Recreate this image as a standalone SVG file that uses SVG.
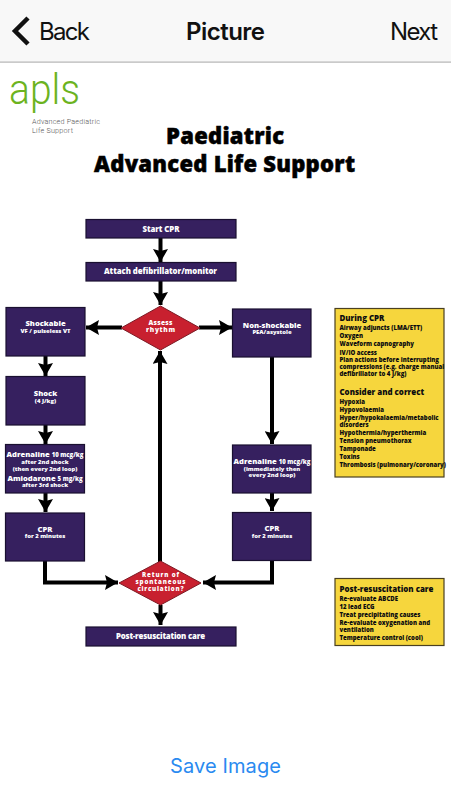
<svg xmlns="http://www.w3.org/2000/svg" width="451" height="800" viewBox="0 0 451 800">
<style>
text{font-family:"Open Sans","Noto Sans","Liberation Sans",sans-serif}
.ui{font-family:Inter,"Liberation Sans",sans-serif;font-size:24px;fill:#111}
.box{fill:#36205f;stroke:#1a1030;stroke-width:1.2}
.dia{fill:#c8202f;stroke:#7d1a24;stroke-width:1}
.note{fill:#f6d63d;stroke:#4a4020;stroke-width:1.2}
.w{fill:#fff;font-weight:800;text-anchor:middle}
.h{font-size:7.600px}.s{font-size:5.900px}.d{font-size:7.800px}.e{font-size:6.600px}
.y{fill:#0c0c10;font-weight:800;font-size:6px}
.yh{fill:#0c0c10;font-weight:800;font-size:7.900px}
.c{fill:none;stroke:#000;stroke-width:4;marker-end:url(#a)}
</style>
<defs><marker id="a" markerUnits="userSpaceOnUse" markerWidth="14" markerHeight="15" refX="13" refY="7.5" orient="auto"><path d="M0 0L13 7.5L0 15L2 7.5Z" fill="#000"/></marker></defs>
<rect width="451" height="800" fill="#fff"/>
<g id="header">
<rect width="451" height="61.500" fill="#f8f8f8"/>
<rect y="61.500" width="451" height="1.200" fill="#b4b4b4"/>
<polyline points="28,18 15,31 28,44" fill="none" stroke="#111" stroke-width="4.500"/>
<text class="ui" x="39" y="40" textLength="51">Back</text>
<text class="ui" x="186" y="40" textLength="79" style="font-weight:600">Picture</text>
<text class="ui" x="390" y="40" textLength="48">Next</text>
</g>
<g id="logo">
<text x="9" y="104" font-size="43" textLength="71" lengthAdjust="spacingAndGlyphs" style="font-family:Roboto,sans-serif;font-weight:300;fill:#6cb31f">apls</text>
<text x="32" y="123.500" font-size="7.200" textLength="68" style="font-family:Roboto,sans-serif;font-weight:300;fill:#555">Advanced Paediatric</text>
<text x="32" y="133" font-size="7.200" textLength="41" style="font-family:Roboto,sans-serif;font-weight:300;fill:#555">Life Support</text>
</g>
<g id="title" text-anchor="middle" font-weight="800" font-size="22" fill="#000" stroke="#000" stroke-width=".5">
<text x="225" y="144" textLength="118">Paediatric</text>
<text x="224.500" y="172" textLength="261">Advanced Life Support</text>
</g>
<g id="connectors">
<path class="c" d="M160.500 238V262"/>
<path class="c" d="M160.500 281V305"/>
<path class="c" d="M122 327.500H86"/>
<path class="c" d="M199 327.500H232"/>
<path class="c" d="M45.500 356V376"/>
<path class="c" d="M45.500 425V444"/>
<path class="c" d="M45.500 493V512"/>
<path class="c" d="M45 561V582.500H118"/>
<path class="c" d="M272 561V582.500H203"/>
<path class="c" d="M272 357V444"/>
<path class="c" d="M272 493V511"/>
<path class="c" d="M160 562V351"/>
<path class="c" d="M160.500 605V625"/>
</g>
<g id="start"><rect class="box" x="86" y="219.500" width="150" height="18.500"/><text class="w d" x="161" y="231.500" textLength="37">Start CPR</text></g>
<g id="attach"><rect class="box" x="86" y="262.500" width="150" height="18.500"/><text class="w d" x="160.500" y="274" textLength="113">Attach defibrillator/monitor</text></g>
<g id="assess"><polygon class="dia" points="160.500,306 200,328 160.500,350 121,328"/><text class="w e" x="160.500" y="324.500" textLength="24">Assess</text><text class="w e" x="160.500" y="332" textLength="29">rhythm</text></g>
<g id="shockable"><rect class="box" x="6" y="307.500" width="79" height="48.500"/><text class="w h" x="45.500" y="326">Shockable</text><text class="w s" x="45.500" y="333">VF / pulseless VT</text></g>
<g id="nonshockable"><rect class="box" x="232.500" y="309" width="78.500" height="48"/><text class="w h" x="272" y="327.500">Non-shockable</text><text class="w s" x="272" y="334">PEA/asystole</text></g>
<g id="shock"><rect class="box" x="6" y="376.500" width="79" height="48.500"/><text class="w h" x="45.500" y="396">Shock</text><text class="w s" x="45.500" y="402.500">(4 J/kg)</text></g>
<g id="adr-left"><rect class="box" x="5.500" y="444.500" width="79" height="48.500"/>
<text class="w h" x="45" y="457">Adrenaline <tspan font-size="6">10 mcg/kg</tspan></text>
<text class="w s" x="45" y="463.500">after 2nd shock</text><text class="w s" x="45" y="470.500">(then every 2nd loop)</text>
<text class="w h" x="45" y="480.500">Amiodarone <tspan font-size="6">5 mg/kg</tspan></text><text class="w s" x="45" y="486.500">after 3rd shock</text></g>
<g id="cpr-left"><rect class="box" x="5.500" y="513" width="79" height="48"/><text class="w h" x="45" y="531.500">CPR</text><text class="w s" x="45" y="538">for 2 minutes</text></g>
<g id="adr-right"><rect class="box" x="232.500" y="445" width="78.500" height="48"/><text class="w h" x="272" y="464">Adrenaline <tspan font-size="6">10 mcg/kg</tspan></text><text class="w s" x="272" y="470.500">(immediately then</text><text class="w s" x="272" y="477">every 2nd loop)</text></g>
<g id="cpr-right"><rect class="box" x="232.500" y="512.500" width="78.500" height="48"/><text class="w h" x="272" y="531">CPR</text><text class="w s" x="272" y="537.500">for 2 minutes</text></g>
<g id="rosc"><polygon class="dia" points="160.500,561 201,583 160.500,605 119,583"/><text class="w" font-size="6.200" x="160.500" y="577" textLength="37">Return of</text><text class="w" font-size="6.200" x="160.500" y="584" textLength="50">spontaneous</text><text class="w" font-size="6.200" x="160.500" y="590.500" textLength="46">circulation?</text></g>
<g id="post"><rect class="box" x="86" y="627" width="150" height="19"/><text class="w d" x="160.500" y="638.500" textLength="89">Post-resuscitation care</text></g>
<g id="during"><rect class="note" x="335" y="308.500" width="109" height="168.500"/>
<text class="yh" x="339.500" y="321">During CPR</text>
<text class="y" x="339.500" y="329.500">Airway adjuncts (LMA/ETT)</text>
<text class="y" x="339.500" y="338">Oxygen</text>
<text class="y" x="339.500" y="346">Waveform capnography</text>
<text class="y" x="339.500" y="354.500">IV/IO access</text>
<text class="y" x="339.500" y="362">Plan actions before interrupting</text>
<text class="y" x="339.500" y="369">compressions (e.g. charge manual</text>
<text class="y" x="339.500" y="376">defibrillator to 4 J/kg)</text>
<text class="yh" x="339.500" y="395">Consider and correct</text>
<text class="y" x="339.500" y="403.500">Hypoxia</text>
<text class="y" x="339.500" y="411.500">Hypovolaemia</text>
<text class="y" x="339.500" y="419.500">Hyper/hypokalaemia/metabolic</text>
<text class="y" x="339.500" y="426.500">disorders</text>
<text class="y" x="339.500" y="434.500">Hypothermia/hyperthermia</text>
<text class="y" x="339.500" y="442.500">Tension pneumothorax</text>
<text class="y" x="339.500" y="450.500">Tamponade</text>
<text class="y" x="339.500" y="458.500">Toxins</text>
<text class="y" x="339.500" y="466.500">Thrombosis (pulmonary/coronary)</text></g>
<g id="postcare"><rect class="note" x="335" y="578.500" width="109" height="67"/>
<text class="yh" x="339.500" y="592">Post-resuscitation care</text>
<text class="y" x="339.500" y="600.500">Re-evaluate ABCDE</text>
<text class="y" x="339.500" y="608.500">12 lead ECG</text>
<text class="y" x="339.500" y="616.500">Treat precipitating causes</text>
<text class="y" x="339.500" y="624.500">Re-evaluate oxygenation and</text>
<text class="y" x="339.500" y="631.500">ventilation</text>
<text class="y" x="339.500" y="639.500">Temperature control (cool)</text></g>
<text id="save" x="170" y="773" font-size="20" textLength="111" style="font-family:Inter,sans-serif;fill:#2a8af0">Save Image</text>
</svg>
